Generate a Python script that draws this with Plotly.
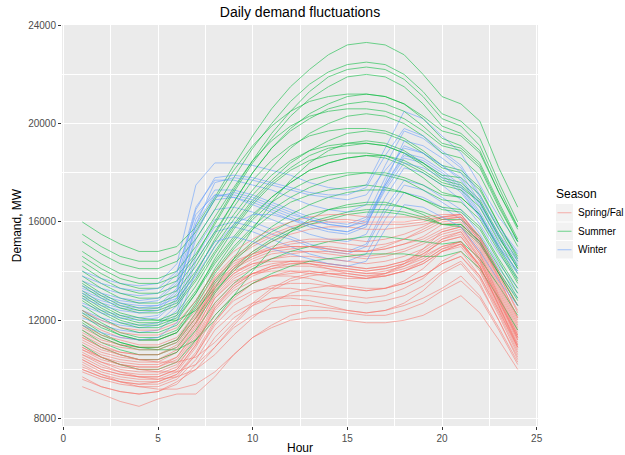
import plotly.graph_objects as go

hours = [1, 2, 3, 4, 5, 6, 7, 8, 9, 10, 11, 12, 13, 14, 15, 16, 17, 18, 19, 20, 21, 22, 23, 24]

spring_fall = [
    [9300, 9000, 8700, 8500, 8800, 9000, 9000, 9700, 10600, 11300, 11700, 12000, 12100, 12100, 12000, 11900, 11900, 12000, 12200, 12600, 13000, 12300, 11200, 10000],
    [9700, 9300, 9100, 9000, 9100, 9500, 10000, 10900, 11700, 12200, 12500, 12600, 12600, 12500, 12400, 12300, 12400, 12600, 12900, 13300, 13800, 13000, 11700, 10300],
    [10000, 9700, 9500, 9400, 9400, 9700, 10600, 11800, 12600, 13100, 13400, 13500, 13500, 13400, 13300, 13200, 13300, 13500, 13800, 14300, 14600, 13700, 12200, 10600],
    [10300, 9900, 9700, 9600, 9600, 9900, 10900, 12200, 13000, 13500, 13800, 13900, 14000, 13900, 13800, 13700, 13800, 14000, 14300, 14800, 15000, 14000, 12400, 10800],
    [10500, 10100, 9900, 9800, 9800, 10100, 11200, 12600, 13400, 13900, 14100, 14200, 14200, 14100, 14000, 13900, 14000, 14200, 14500, 15000, 15200, 14200, 12600, 11000],
    [10800, 10400, 10200, 10100, 10100, 10400, 11400, 12900, 13700, 14100, 14300, 14400, 14400, 14300, 14200, 14100, 14200, 14400, 14700, 15200, 15400, 14400, 12800, 11200],
    [11000, 10600, 10400, 10300, 10300, 10700, 11800, 13200, 13900, 14300, 14500, 14600, 14600, 14500, 14400, 14300, 14400, 14600, 14900, 15400, 15600, 14600, 13000, 11400],
    [11300, 10900, 10700, 10600, 10600, 11000, 12000, 13400, 14100, 14500, 14800, 14900, 15000, 15000, 14900, 14800, 14900, 15100, 15300, 15700, 15900, 14900, 13300, 11700],
    [11700, 11300, 11000, 10900, 10900, 11200, 12100, 13400, 14200, 14800, 15200, 15500, 15700, 15800, 15800, 15700, 15700, 15800, 15900, 16100, 16200, 15200, 13600, 12000],
    [12000, 11600, 11300, 11200, 11200, 11500, 12400, 13700, 14500, 15000, 15400, 15700, 15900, 16000, 16000, 15900, 15900, 15900, 16000, 16200, 16300, 15400, 13900, 12300],
    [10600, 10200, 9900, 9700, 9600, 9700, 10000, 10600, 11400, 12100, 12700, 13100, 13300, 13400, 13400, 13300, 13300, 13500, 13800, 14300, 14600, 13800, 12400, 10900],
    [10900, 10500, 10200, 10100, 10100, 10500, 11600, 13100, 13900, 14400, 14700, 14800, 14800, 14700, 14600, 14500, 14600, 14800, 15100, 15500, 15700, 14700, 13100, 11500],
    [11100, 10700, 10500, 10400, 10400, 10700, 11700, 13000, 13800, 14200, 14500, 14700, 14800, 14800, 14700, 14600, 14700, 14900, 15200, 15600, 15800, 14800, 13200, 11600],
    [10400, 10000, 9800, 9700, 9700, 10000, 11000, 12500, 13400, 13900, 14200, 14400, 14400, 14300, 14200, 14100, 14200, 14400, 14800, 15300, 15500, 14500, 12900, 11300],
    [11600, 11200, 11000, 10900, 10900, 11200, 12200, 13600, 14300, 14700, 15000, 15200, 15300, 15300, 15300, 15200, 15300, 15500, 15800, 16200, 16300, 15300, 13700, 12100],
    [10000, 9700, 9500, 9400, 9500, 9800, 10600, 11900, 12900, 13500, 13800, 14000, 14000, 13900, 13800, 13700, 13800, 14000, 14400, 14900, 15200, 14200, 12600, 10900],
    [10200, 9800, 9500, 9300, 9200, 9200, 9400, 9900, 10600, 11300, 11800, 12200, 12400, 12400, 12300, 12200, 12200, 12400, 12700, 13200, 13600, 12900, 11600, 10200],
    [11200, 10800, 10600, 10400, 10400, 10800, 11900, 13300, 14000, 14300, 14400, 14400, 14300, 14100, 13900, 13800, 13900, 14200, 14600, 15300, 15600, 14500, 12900, 11300],
    [10400, 10000, 9800, 9700, 9700, 10000, 11000, 12400, 13200, 13600, 13800, 13800, 13700, 13500, 13300, 13200, 13300, 13600, 14100, 14800, 15100, 14100, 12500, 10900],
    [11500, 11100, 10900, 10800, 10800, 11100, 12100, 13500, 14200, 14600, 14900, 15100, 15200, 15200, 15100, 15000, 15100, 15300, 15600, 16000, 16100, 15100, 13500, 11900],
    [10900, 10500, 10300, 10200, 10200, 10500, 11500, 12900, 13600, 13900, 14000, 14000, 13900, 13800, 13700, 13700, 13900, 14300, 14900, 15600, 15800, 14700, 13000, 11400],
    [10100, 9800, 9600, 9500, 9500, 9800, 10700, 12000, 12800, 13200, 13300, 13300, 13200, 13100, 13000, 12900, 13000, 13300, 13700, 14400, 14800, 13800, 12300, 10700],
    [11800, 11400, 11200, 11000, 11000, 11300, 12300, 13700, 14400, 14700, 14900, 15000, 15000, 14900, 14800, 14800, 15000, 15300, 15700, 16100, 16200, 15200, 13700, 12100],
    [11300, 10900, 10600, 10400, 10300, 10300, 10500, 11100, 11900, 12700, 13300, 13700, 13900, 14000, 14000, 13900, 13900, 14100, 14400, 14900, 15100, 14300, 12800, 11300],
    [9900, 9600, 9400, 9300, 9300, 9600, 10400, 11600, 12300, 12700, 12900, 12900, 12800, 12600, 12400, 12300, 12400, 12700, 13200, 13900, 14300, 13400, 12000, 10500],
    [12200, 11800, 11500, 11400, 11400, 11700, 12600, 13800, 14600, 15100, 15500, 15800, 16000, 16100, 16100, 16000, 16000, 16000, 16100, 16200, 16200, 15300, 13800, 12400],
    [10700, 10300, 10000, 9900, 9900, 10200, 11100, 12500, 13300, 13800, 14100, 14300, 14300, 14200, 14100, 14000, 14100, 14300, 14600, 15000, 15200, 14200, 12600, 11000],
    [11400, 11000, 10700, 10600, 10600, 10900, 11900, 13300, 14100, 14600, 14900, 15000, 15000, 14900, 14800, 14800, 14900, 15100, 15400, 15900, 16000, 15000, 13400, 11800],
    [10600, 10300, 10100, 10000, 10000, 10300, 11300, 12700, 13500, 13900, 14200, 14300, 14300, 14200, 14100, 14000, 14100, 14300, 14700, 15200, 15400, 14400, 12800, 11200],
    [9600, 9300, 9100, 9000, 9100, 9400, 10200, 11300, 12100, 12600, 12900, 13000, 13000, 12900, 12800, 12700, 12800, 13000, 13400, 14000, 14400, 13500, 12000, 10400],
    [10800, 10500, 10200, 10000, 9900, 9900, 10200, 10900, 11800, 12600, 13200, 13600, 13800, 13900, 13900, 13800, 13800, 14000, 14300, 14800, 15100, 14200, 12700, 11100],
    [12400, 12000, 11700, 11600, 11600, 11900, 12800, 14000, 14800, 15300, 15700, 16000, 16200, 16300, 16300, 16200, 16200, 16200, 16200, 16300, 16300, 15400, 14000, 12600],
]

summer = [
    [16000, 15500, 15100, 14800, 14800, 15000, 15800, 17000, 18300, 19500, 20600, 21500, 22200, 22800, 23200, 23300, 23200, 22800, 22000, 21100, 20800, 20100, 18200, 16600],
    [15200, 14700, 14300, 14100, 14100, 14400, 15300, 16500, 17800, 19000, 20000, 20900, 21600, 22100, 22400, 22500, 22400, 22000, 21300, 20400, 20100, 19400, 17600, 16000],
    [14600, 14100, 13700, 13500, 13500, 13800, 14700, 15900, 17200, 18400, 19400, 20300, 21000, 21500, 21900, 22000, 21900, 21500, 20800, 19900, 19600, 18900, 17200, 15700],
    [14200, 13700, 13300, 13100, 13100, 13400, 14400, 15600, 16800, 18000, 19000, 19800, 20400, 20800, 21100, 21200, 21100, 20800, 20200, 19400, 19100, 18400, 16800, 15300],
    [13800, 13300, 12900, 12700, 12700, 13000, 14000, 15200, 16300, 17300, 18200, 19000, 19600, 20000, 20300, 20400, 20300, 20000, 19500, 18800, 18600, 17900, 16400, 15000],
    [13400, 12900, 12500, 12300, 12300, 12600, 13600, 14800, 15900, 16900, 17700, 18400, 18900, 19300, 19600, 19700, 19600, 19300, 18800, 18200, 18000, 17300, 15900, 14500],
    [13000, 12500, 12100, 11900, 11900, 12200, 13200, 14400, 15400, 16300, 17000, 17600, 18100, 18400, 18600, 18700, 18700, 18500, 18100, 17600, 17400, 16800, 15400, 14100],
    [12600, 12100, 11700, 11500, 11500, 11800, 12800, 14000, 15000, 15800, 16500, 17000, 17400, 17700, 17900, 18000, 18000, 17800, 17500, 17100, 17000, 16300, 15000, 13700],
    [12200, 11700, 11400, 11200, 11200, 11500, 12500, 13600, 14500, 15200, 15800, 16300, 16700, 17000, 17200, 17300, 17300, 17200, 16900, 16600, 16500, 15800, 14500, 13300],
    [11800, 11300, 11000, 10800, 10800, 11100, 12100, 13200, 14000, 14700, 15200, 15600, 15900, 16100, 16300, 16400, 16400, 16300, 16100, 15900, 15900, 15200, 14000, 12800],
    [11400, 10900, 10600, 10400, 10400, 10700, 11600, 12700, 13500, 14100, 14500, 14800, 15000, 15200, 15300, 15400, 15400, 15300, 15200, 15100, 15200, 14500, 13400, 12200],
    [11000, 10500, 10200, 10000, 10000, 10300, 11200, 12200, 13000, 13500, 13900, 14200, 14400, 14500, 14600, 14700, 14700, 14700, 14600, 14600, 14800, 14100, 12900, 11600],
    [13200, 12700, 12300, 12100, 12000, 12000, 12400, 13300, 14500, 15700, 16800, 17700, 18400, 18900, 19200, 19300, 19200, 18900, 18400, 17800, 17600, 16900, 15500, 14200],
    [12000, 11500, 11100, 10900, 10800, 10800, 11200, 12000, 13000, 14000, 14900, 15600, 16100, 16500, 16700, 16800, 16800, 16600, 16300, 15900, 15800, 15100, 13900, 12600],
    [14800, 14300, 13900, 13700, 13700, 14000, 15000, 16200, 17400, 18500, 19300, 19900, 20300, 20500, 20600, 20600, 20500, 20200, 19700, 19100, 18900, 18200, 16600, 15200],
    [12800, 12300, 11900, 11700, 11700, 12000, 13100, 14500, 15700, 16700, 17500, 18100, 18500, 18700, 18800, 18800, 18700, 18400, 18000, 17500, 17300, 16600, 15200, 13900],
    [13600, 13100, 12700, 12500, 12500, 12800, 13900, 15300, 16600, 17700, 18500, 19100, 19500, 19700, 19800, 19800, 19700, 19400, 18900, 18300, 18100, 17400, 15900, 14600],
    [11600, 11100, 10800, 10600, 10600, 10900, 11900, 13100, 14100, 14800, 15300, 15700, 16000, 16200, 16400, 16500, 16500, 16400, 16200, 15900, 15900, 15200, 13900, 12600],
    [12400, 11900, 11500, 11300, 11300, 11600, 12700, 14100, 15200, 16100, 16800, 17300, 17700, 17900, 18000, 18000, 17900, 17700, 17300, 16900, 16800, 16100, 14800, 13500],
    [15500, 15000, 14600, 14400, 14400, 14700, 15600, 16900, 18100, 19100, 19900, 20500, 20900, 21100, 21200, 21200, 21100, 20800, 20300, 19700, 19500, 18800, 17200, 15800],
    [12900, 12400, 12000, 11800, 11800, 12100, 13100, 14300, 15300, 16200, 17000, 17600, 18100, 18400, 18600, 18700, 18600, 18300, 17800, 17200, 17000, 16300, 14900, 13600],
    [14000, 13500, 13100, 12900, 12900, 13200, 14200, 15500, 16800, 18000, 19000, 19700, 20200, 20600, 20800, 20900, 20800, 20500, 19900, 19200, 19000, 18300, 16700, 15200],
    [13100, 12600, 12200, 12000, 12000, 12300, 13400, 14700, 15800, 16800, 17600, 18200, 18700, 19000, 19100, 19200, 19100, 18800, 18300, 17700, 17500, 16800, 15400, 14100],
    [12300, 11800, 11400, 11200, 11200, 11500, 12600, 13900, 14900, 15700, 16300, 16800, 17100, 17300, 17400, 17500, 17400, 17200, 16900, 16500, 16400, 15700, 14400, 13100],
    [11900, 11400, 11100, 10900, 10900, 11200, 12300, 13500, 14400, 15100, 15600, 16000, 16300, 16500, 16600, 16700, 16700, 16600, 16400, 16100, 16100, 15400, 14200, 12900],
    [14400, 13900, 13500, 13300, 13300, 13600, 14600, 16000, 17300, 18500, 19600, 20500, 21300, 21900, 22200, 22300, 22200, 21800, 21100, 20200, 19900, 19100, 17400, 15800],
    [13500, 13000, 12600, 12400, 12400, 12700, 13700, 15000, 16100, 17100, 17900, 18500, 18900, 19100, 19200, 19200, 19100, 18800, 18400, 17900, 17800, 17100, 15700, 14400],
]

winter = [
    [14000, 13700, 13500, 13400, 13500, 14300, 17500, 18400, 18400, 18300, 18100, 17900, 17600, 17400, 17300, 17500, 19000, 20500, 20200, 19500, 18800, 17500, 16200, 15200],
    [13600, 13300, 13100, 13000, 13100, 13900, 16600, 17700, 17700, 17500, 17300, 17000, 16700, 16500, 16400, 16700, 18300, 19700, 19400, 18800, 18200, 17000, 15700, 14700],
    [13300, 13000, 12800, 12700, 12800, 13500, 16100, 17300, 17300, 17100, 16800, 16500, 16200, 16000, 15900, 16200, 17800, 19100, 18800, 18300, 17700, 16600, 15300, 14300],
    [13000, 12700, 12500, 12400, 12500, 13200, 15700, 16900, 17000, 16800, 16500, 16200, 15900, 15700, 15600, 15900, 17400, 18600, 18400, 17900, 17300, 16200, 15000, 14000],
    [12700, 12400, 12200, 12100, 12200, 12900, 15300, 16500, 16600, 16400, 16100, 15800, 15500, 15300, 15200, 15500, 17000, 18200, 18000, 17500, 16900, 15900, 14700, 13700],
    [12400, 12100, 11900, 11800, 11900, 12600, 14900, 16100, 16200, 16000, 15700, 15400, 15100, 14900, 14800, 15100, 16600, 17700, 17500, 17000, 16500, 15500, 14300, 13300],
    [12100, 11800, 11600, 11500, 11600, 12200, 14400, 15600, 15800, 15600, 15300, 15000, 14700, 14500, 14400, 14700, 16100, 17200, 17000, 16600, 16100, 15100, 13900, 12900],
    [12300, 12000, 11800, 11700, 11800, 12400, 14600, 15800, 16000, 15800, 15500, 15300, 15000, 14800, 14700, 15000, 16400, 17500, 17300, 16800, 16300, 15300, 14100, 13100],
    [13200, 12900, 12700, 12600, 12600, 12900, 13800, 15000, 15900, 16300, 16300, 16100, 15900, 15700, 15600, 15900, 17300, 18400, 18200, 17800, 17200, 16200, 14900, 13900],
    [12900, 12600, 12400, 12300, 12400, 13100, 15900, 17600, 17800, 17700, 17500, 17300, 17100, 17000, 16900, 17100, 18100, 19000, 18800, 18300, 17800, 16700, 15400, 14400],
    [13800, 13500, 13300, 13200, 13300, 14000, 16300, 17100, 17000, 16700, 16400, 16100, 15800, 15600, 15500, 15800, 17600, 19300, 19100, 18600, 18000, 16800, 15500, 14500],
    [11800, 11500, 11300, 11200, 11300, 11900, 14000, 15200, 15400, 15200, 14900, 14700, 14500, 14300, 14200, 14400, 15700, 16700, 16600, 16200, 15800, 14800, 13600, 12600],
    [12600, 12300, 12100, 12000, 12100, 12800, 15500, 17000, 17200, 17000, 16700, 16400, 16100, 15900, 15800, 16100, 17500, 18700, 18500, 18000, 17400, 16300, 15000, 14000],
    [13400, 13100, 12900, 12800, 12900, 13600, 16500, 17800, 17900, 17800, 17600, 17400, 17200, 17100, 17100, 17400, 18700, 19800, 19500, 18900, 18300, 17100, 15800, 14800],
    [13100, 12800, 12600, 12500, 12600, 13300, 15900, 17100, 17100, 16900, 16600, 16300, 16100, 15900, 15800, 16000, 17500, 18800, 18600, 18100, 17500, 16400, 15100, 14200],
]

season_names = ["Spring/Fal", "Summer", "Winter"]
season_colors = ["#F8766D", "#00BA38", "#619CFF"]
legend_title = "Season"

LINE_ALPHA = 0.55

fig = go.Figure()


def add_curves(curves, idx):
    for vals in curves:
        fig.add_trace(go.Scatter(
            x=hours, y=vals, mode="lines",
            line=dict(color=season_colors[idx], width=1),
            opacity=LINE_ALPHA,
            name=season_names[idx], showlegend=False,
            hoverinfo="skip",
        ))


# drawing order roughly follows the calendar: winter, spring, summer, fall, winter
add_curves(winter[:8], 2)
add_curves(spring_fall[:16], 0)
add_curves(summer, 1)
add_curves(spring_fall[16:], 0)
add_curves(winter[8:], 2)

# ---- pixel layout of the panel (for margins and the hand-built legend) ----
W, H = 625, 455
PL, PR, PT, PB = 62, 538, 25, 426


def px_x(px):
    return (px - PL) / (PR - PL)


def px_y(py):
    return (PB - py) / (PB - PT)


def hex_rgba(h, a):
    h = h.lstrip("#")
    return "rgba(%d,%d,%d,%.2f)" % (int(h[0:2], 16), int(h[2:4], 16), int(h[4:6], 16), a)


shapes = []
annotations = []
annotations.append(dict(
    text=legend_title, xref="paper", yref="paper", x=px_x(554), y=px_y(194),
    xanchor="left", yanchor="middle", showarrow=False,
    font=dict(size=12, color="black"),
))
key_top = 204
key_h = 18.5
for i, (nm, col) in enumerate(zip(season_names, season_colors)):
    y0 = key_top + i * key_h
    y1 = y0 + key_h - 1
    yc = (y0 + y1) / 2
    shapes.append(dict(type="rect", xref="paper", yref="paper",
                       x0=px_x(556), x1=px_x(573), y0=px_y(y1), y1=px_y(y0),
                       fillcolor="#F2F2F2", line=dict(width=0), layer="above"))
    shapes.append(dict(type="line", xref="paper", yref="paper",
                       x0=px_x(557.5), x1=px_x(571.5), y0=px_y(yc), y1=px_y(yc),
                       line=dict(color=hex_rgba(col, LINE_ALPHA), width=1), layer="above"))
    annotations.append(dict(
        text=nm, xref="paper", yref="paper", x=px_x(576), y=px_y(yc),
        xanchor="left", yanchor="middle", showarrow=False,
        font=dict(size=10, color="black"),
    ))

axis_common = dict(
    showgrid=True, gridcolor="white", gridwidth=1.1,
    zeroline=False, showline=False, automargin=False,
    ticks="outside", ticklen=3, tickwidth=1, tickcolor="#333333",
    tickfont=dict(family="Liberation Sans, Arial, sans-serif", size=10, color="#4D4D4D"),
)

fig.update_layout(
    width=W, height=H,
    margin=dict(l=PL, r=W - PR, t=PT, b=H - PB),
    paper_bgcolor="white", plot_bgcolor="#EBEBEB",
    font=dict(family="Liberation Sans, Arial, sans-serif", color="black"),
    showlegend=False,
    title=dict(text="Daily demand fluctuations", x=300 / W, xanchor="center",
               y=1 - 12 / H, yanchor="middle",
               font=dict(size=14, color="black")),
    xaxis=dict(range=[-0.07, 25.07], tickvals=[0, 5, 10, 15, 20, 25],
               minor=dict(dtick=2.5, tick0=0, showgrid=True, gridcolor="white", gridwidth=0.5, ticks=""),
               title=dict(text="Hour", font=dict(size=12), standoff=1),
               **axis_common),
    yaxis=dict(range=[7700, 24010], tickvals=[8000, 12000, 16000, 20000, 24000],
               tickformat="d",
               minor=dict(dtick=2000, tick0=8000, showgrid=True, gridcolor="white", gridwidth=0.5, ticks=""),
               title=dict(text="Demand, MW", font=dict(size=12), standoff=3),
               **axis_common),
    shapes=shapes,
    annotations=annotations,
)

fig.write_html("out.html")
